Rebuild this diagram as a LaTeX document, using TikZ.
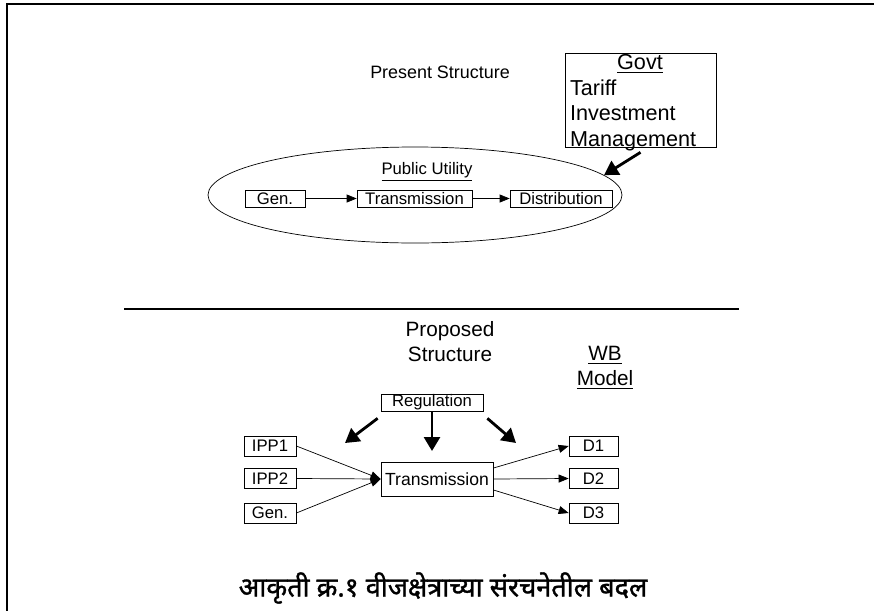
\documentclass[tikz,border=0pt]{standalone}
\usepackage{fontspec}
\setmainfont{Liberation Sans}
\newfontfamily\devfont[Script=Devanagari,AutoFakeBold=1.2]{Noto Sans}
\usetikzlibrary{arrows.meta,positioning,shapes.geometric}
\tikzset{
  unit box/.style={draw,thin,inner sep=0pt,minimum height=3.4mm,font=\fontsize{9.5}{11}\selectfont},
  flow arrow/.style={-{Triangle[length=2mm,width=1.6mm]},thin},
  reg arrow/.style={-{Triangle[length=2.8mm,width=3.2mm]},line width=1.6pt},
  heading/.style={align=center,font=\fontsize{11.8}{14.2}\selectfont}
}

\begin{document}
\begin{tikzpicture}[x=0.2mm,y=-0.2mm]
      \useasboundingbox (0,0) rectangle (874,611);
      \draw[line width=1pt] (874,4) -- (7,4) -- (7,611);
      \node[heading,font=\fontsize{10.2}{12}\selectfont] (present) at (440,72) {Present Structure};
      \node[draw,thin,minimum width=30.2mm,minimum height=18.8mm,inner sep=0pt] (govt) at (640.5,100) {};
      \node[anchor=north west,inner xsep=1mm,inner ysep=0.3mm,text width=28mm,align=left,font=\fontsize{12.3}{14.5}\selectfont] (govtlist) at (govt.north west) {\hfill\underline{Govt}\hfill\null\\Tariff\\Investment\\Management};
      \node[ellipse,draw,thin,minimum width=82.8mm,minimum height=19.2mm,inner sep=0pt] (utility) at (415,195) {};
      \node[font=\fontsize{9.5}{11}\selectfont] (utilitylabel) at (427,172) {\underline{Public Utility}};
      \node[unit box,minimum width=12mm] (gen) at (275,198.5) {Gen.};
      \node[unit box,minimum width=23mm] (trans) at (414.5,198.5) {Transmission};
      \node[unit box,minimum width=20.4mm] (dist) at (561,198.5) {Distribution};
      \draw[flow arrow] (gen) -- (trans);
      \draw[flow arrow] (trans) -- (dist);
      \draw[reg arrow] ([yshift=-1mm]govt.south) -- (utility.6);
      \draw[line width=1.2pt] (124,309) -- (739,309);
      \node[heading] (proposed) at (450,342) {Proposed\\Structure};
      \node[heading] (wbmodel) at (605,368) {\underline{WB}\\\underline{Model}};
      \node[unit box,minimum width=20.4mm] (reg) at (432,402.5) {Regulation};
      \node[unit box,minimum width=10.4mm,minimum height=4mm] (ipp1) at (270,446) {IPP1};
      \node[unit box,minimum width=10.4mm,minimum height=4mm] (ipp2) at (270,478.5) {IPP2};
      \node[unit box,minimum width=10.4mm,minimum height=4mm] (gen2) at (270,513) {Gen.};
      \node[unit box,minimum width=22.4mm,minimum height=6.8mm,font=\fontsize{10}{12}\selectfont] (grid) at (437,479) {Transmission};
      \node[unit box,minimum width=9.8mm,minimum height=4mm] (d1) at (593.5,446) {D1};
      \node[unit box,minimum width=9.8mm,minimum height=4mm] (d2) at (593.5,478.5) {D2};
      \node[unit box,minimum width=9.8mm,minimum height=4mm] (d3) at (593.5,513) {D3};
      \coordinate (regleft) at (345,443);
      \coordinate (regmid) at (432,451);
      \coordinate (regright) at (516,443);
      \draw[reg arrow] ([xshift=-0.6mm,yshift=-1.4mm]reg.south west) -- (regleft);
      \draw[reg arrow] (reg.south) -- (regmid);
      \draw[reg arrow] ([xshift=0.8mm,yshift=-1.4mm]reg.south east) -- (regright);
      \draw[flow arrow] (ipp1.east) -- (grid.west);
      \draw[flow arrow] (ipp2.east) -- (grid.west);
      \draw[flow arrow] (gen2.east) -- (grid.west);
      \draw[flow arrow] (grid.11) -- (d1.west);
      \draw[flow arrow] (grid.east) -- (d2.west);
      \draw[flow arrow] (grid.-11) -- (d3.west);
      \node[font=\devfont\fontsize{15.4}{17}\selectfont\bfseries] (caption) at (443,588) {आकृती क्र.१ वीजक्षेत्राच्या संरचनेतील बदल};
    \end{tikzpicture}
\end{document}
